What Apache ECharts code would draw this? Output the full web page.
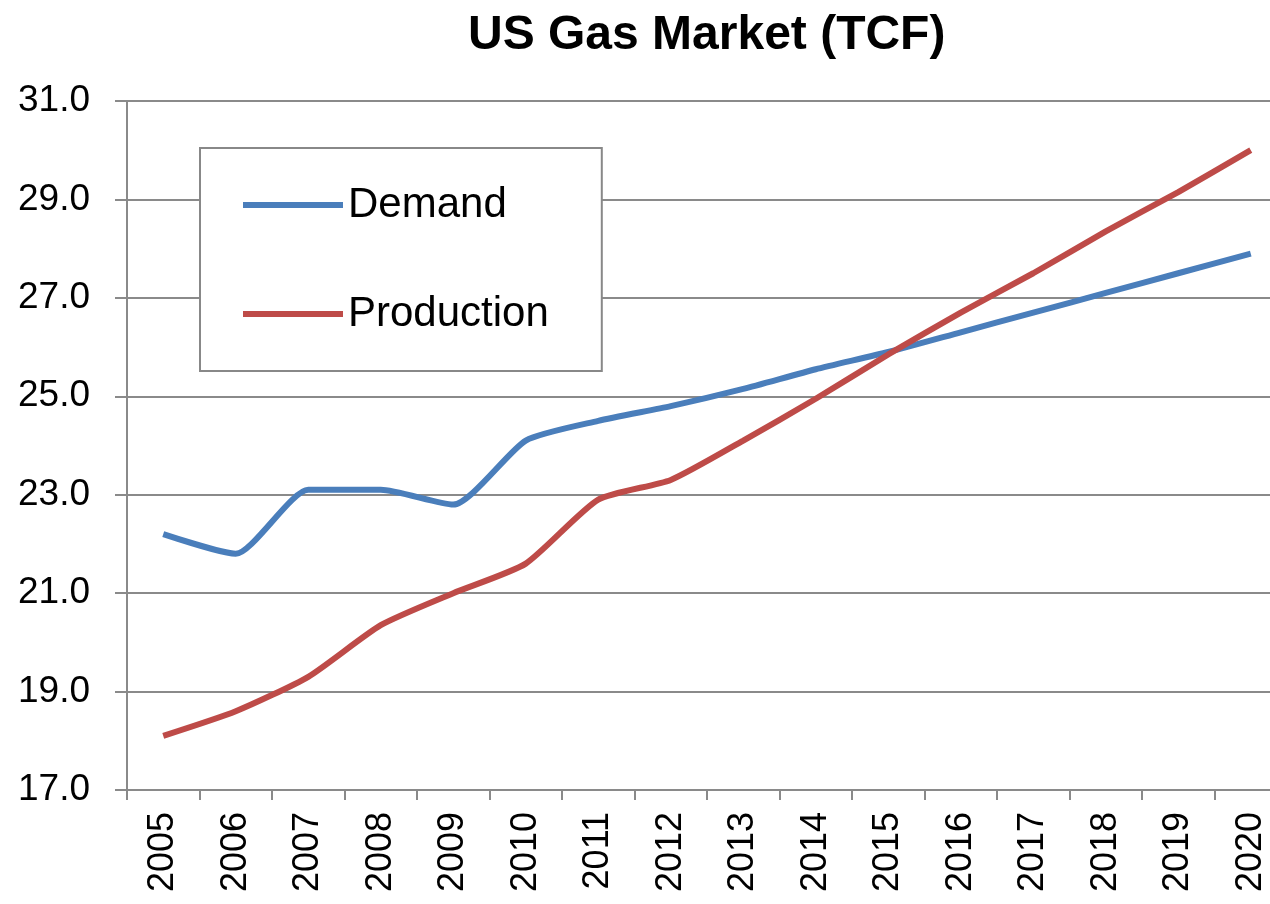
<!DOCTYPE html>
<html lang="en">
  <head>
    <meta charset="UTF-8" />
    <title>US Gas Market</title>
    <script src="https://cdn.jsdelivr.net/npm/echarts@6.0.0/dist/echarts.min.js"></script>
    <style>
      html, body { margin: 0; padding: 0; background: #fff; }
    </style>
  </head>
  <body>
    <div id="main" style="width: 1270px; height: 904px"></div>
    <script type="text/javascript">
      // chart data
      const years = ['2005', '2006', '2007', '2008', '2009', '2010', '2011', '2012',
        '2013', '2014', '2015', '2016', '2017', '2018', '2019', '2020'];
      const demand = [22.2, 21.8, 23.1, 23.1, 22.8, 24.1, 24.5, 24.8,
        25.15, 25.55, 25.9, 26.3, 26.7, 27.1, 27.5, 27.9];
      const production = [18.1, 18.6, 19.3, 20.35, 21.0, 21.6, 22.9, 23.3,
        24.1, 24.95, 25.85, 26.7, 27.5, 28.35, 29.15, 30.0];

      let myChart = echarts.init(document.getElementById('main'));
      const font = 'Liberation Sans, Arial, sans-serif';
      const gridGray = '#8a8a8a';

      let options = {
        backgroundColor: '#fff',
        animation: false,
        title: {
          text: 'US Gas Market (TCF)',
          left: 463,
          top: 7,
          textStyle: { fontFamily: font, fontSize: 48, fontWeight: 'bold', color: '#000' },
        },
        legend: {
          orient: 'vertical',
          left: 200,
          top: 148,
          padding: [36, 53, 36, 43],
          itemGap: 67,
          itemWidth: 100,
          itemHeight: 6,
          icon: 'rect',
          backgroundColor: '#fff',
          borderColor: '#888',
          borderWidth: 2,
          textStyle: { fontFamily: font, fontSize: 42, color: '#000' },
          data: ['Demand', 'Production'],
        },
        grid: {
          left: 127,
          top: 101,
          right: -17,
          bottom: 114,
          outerBoundsMode: 'none',
        },
        xAxis: {
          type: 'category',
          data: years,
          boundaryGap: true,
          axisLine: { lineStyle: { color: gridGray, width: 2 } },
          axisTick: { show: true, length: 10, lineStyle: { color: gridGray, width: 2 } },
          axisLabel: { rotate: 90, margin: 22, fontFamily: font, fontSize: 36, color: '#000' },
        },
        yAxis: {
          type: 'value',
          min: 17,
          max: 31,
          interval: 2,
          axisLine: { show: true, lineStyle: { color: gridGray, width: 2 } },
          axisTick: { show: true, length: 12, lineStyle: { color: gridGray, width: 2 } },
          splitLine: { lineStyle: { color: gridGray, width: 2 } },
          axisLabel: {
            margin: 37,
            fontFamily: font,
            fontSize: 37,
            color: '#000',
            formatter: (v) => v.toFixed(1),
          },
        },
        series: [
          {
            name: 'Demand',
            type: 'line',
            data: demand,
            smooth: 0.2,
            symbol: 'none',
            color: '#4A7EBB',
            lineStyle: { width: 6, color: '#4A7EBB' },
          },
          {
            name: 'Production',
            type: 'line',
            data: production,
            smooth: 0.2,
            symbol: 'none',
            color: '#BE4B48',
            lineStyle: { width: 6, color: '#BE4B48' },
          },
        ],
      };

      myChart.setOption(options);
    </script>
  </body>
</html>
